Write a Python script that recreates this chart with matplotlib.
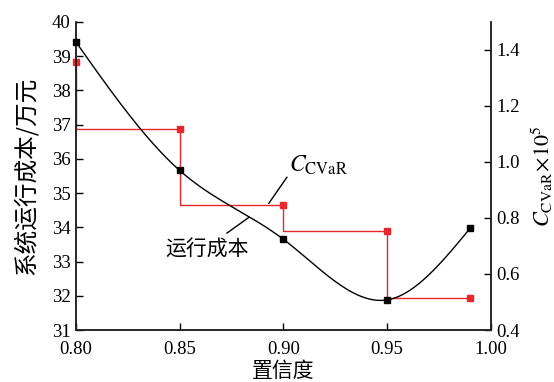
import numpy as np
import matplotlib
matplotlib.use('Agg')
import matplotlib.pyplot as plt

plt.rcParams['font.family'] = ['Liberation Serif', 'Noto Sans CJK SC']
plt.rcParams['mathtext.fontset'] = 'stix'

# data
conf = [0.80, 0.85, 0.90, 0.95, 0.99]
cost = [39.41, 35.66, 33.65, 31.88, 33.97]      # 万元
cvar = [1.357, 1.119, 0.846, 0.754, 0.514]      # x1e5

xticks = [0.80, 0.85, 0.90, 0.95, 1.00]
yticks_l = [31, 32, 33, 34, 35, 36, 37, 38, 39, 40]
yticks_r = [0.4, 0.6, 0.8, 1.0, 1.2, 1.4]

red = '#e8262b'
cjk = 'Noto Sans CJK SC'


def natural_spline(x, y, n=300):
    # plain natural cubic spline, only used to draw the smooth cost curve
    x = np.asarray(x, float)
    y = np.asarray(y, float)
    k = len(x)
    h = np.diff(x)
    A = np.zeros((k, k))
    b = np.zeros(k)
    A[0, 0] = 1
    A[-1, -1] = 1
    for i in range(1, k - 1):
        A[i, i - 1] = h[i - 1]
        A[i, i] = 2 * (h[i - 1] + h[i])
        A[i, i + 1] = h[i]
        b[i] = 6 * ((y[i + 1] - y[i]) / h[i] - (y[i] - y[i - 1]) / h[i - 1])
    M = np.linalg.solve(A, b)
    xs = np.linspace(x[0], x[-1], n)
    ys = np.zeros(n)
    for j, xx in enumerate(xs):
        i = min(np.searchsorted(x, xx) - 1, k - 2)
        i = max(i, 0)
        t1 = x[i + 1] - xx
        t0 = xx - x[i]
        ys[j] = (M[i] * t1 ** 3 / (6 * h[i]) + M[i + 1] * t0 ** 3 / (6 * h[i])
                 + (y[i] / h[i] - M[i] * h[i] / 6) * t1
                 + (y[i + 1] / h[i] - M[i + 1] * h[i] / 6) * t0)
    return xs, ys


fig = plt.figure(figsize=(5.54, 3.82), dpi=100)
ax = fig.add_axes([0.137, 0.136, 0.749, 0.807])
ax2 = ax.twinx()

# CVaR step line (right axis)
ax2.plot(conf, cvar, drawstyle='steps-pre', color=red, lw=1.0, clip_on=False)
ax2.plot(conf, cvar, 's', color=red, ms=5, mec=red, lw=0, clip_on=False)

# cost curve (left axis)
xs, ys = natural_spline(conf, cost)
ax.plot(xs, ys, color='black', lw=1.0)
ax.plot(conf, cost, 's', color='black', ms=5, lw=0, zorder=5, clip_on=False)
ax.set_zorder(ax2.get_zorder() + 1)
ax.patch.set_visible(False)

ax.set_xlim(0.80, 1.00)
ax.set_ylim(31, 40)
ax2.set_ylim(0.4, 1.5)
ax.set_xticks(xticks)
ax.set_xticklabels(['%.2f' % v for v in xticks])
ax.set_yticks(yticks_l)
ax2.set_yticks(yticks_r)
ax2.set_yticklabels(['%.1f' % v for v in yticks_r])

for a in (ax, ax2):
    a.tick_params(direction='in', length=5, width=1.0, labelsize=13.5, pad=4)
    for s in a.spines.values():
        s.set_linewidth(1.1)
        s.set_color('#222222')
    a.spines['top'].set_visible(False)
ax.tick_params(axis='x', pad=8)
ax.tick_params(axis='y', right=False)
ax2.tick_params(axis='y', left=False)

ax.set_xlabel('置信度', family=cjk, fontsize=15, labelpad=1)
ax.set_ylabel('系统运行成本/万元', family=cjk, fontsize=17, labelpad=10)
ax2.set_ylabel(r'$C_{\mathrm{CVaR}}\!\times\!10^5$', fontsize=16, labelpad=7)

# annotations
ax.text(0.9027, 35.62, r'$C_{\mathrm{CVaR}}$', fontsize=17, ha='left', va='baseline')
ax.plot([0.9017, 0.8930], [35.46, 34.70], color='black', lw=1.0)
ax.text(0.8631, 33.36, '运行成本', family=cjk, fontsize=15, ha='center', va='center')
ax.plot([0.8728, 0.8834], [33.83, 34.29], color='black', lw=1.0)

fig.savefig('out.png', dpi=100)
